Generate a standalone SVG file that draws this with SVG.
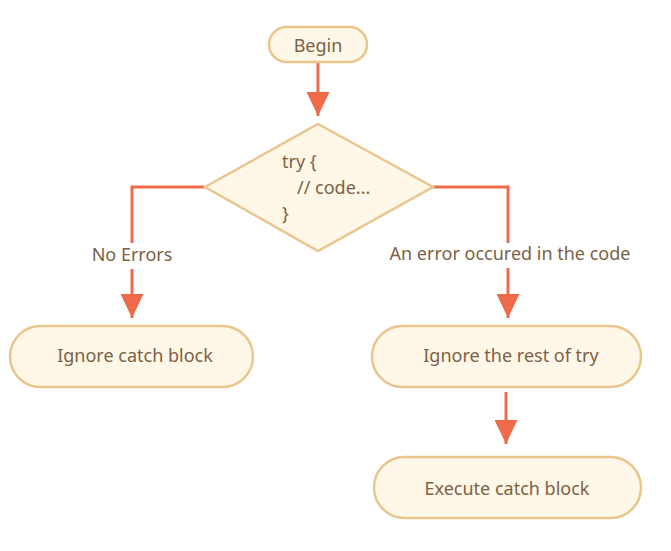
<svg xmlns="http://www.w3.org/2000/svg" width="671" height="551" viewBox="0 0 671 551">
<style>
.node{fill:#fff7e7;stroke:#e9c68e;stroke-width:2.5}
.t{font-family:"Noto Sans","Liberation Sans",Arial,sans-serif;font-size:18px;fill:#7b6246}
.c{text-anchor:middle;dominant-baseline:central}
.ln{fill:none;stroke:#ee6a48;stroke-width:3}
.lbl{font-family:"Noto Sans","Liberation Sans",Arial,sans-serif;font-size:18px;fill:#7b6246;text-anchor:middle;dominant-baseline:central}
</style>
<defs>
<marker id="ah" viewBox="0 0 24 23" refX="24" refY="11.5" markerWidth="24" markerHeight="23" markerUnits="userSpaceOnUse" orient="auto">
<path d="M0,0 L24,11.5 L0,23 Z" fill="#ee6a48"/>
</marker>
</defs>
<rect width="671" height="551" fill="#ffffff"/>
<g id="connectors">
<line class="ln" x1="318" y1="62" x2="318" y2="116" marker-end="url(#ah)"/>
<polyline class="ln" points="205,187 132,187 132,243"/>
<line class="ln" x1="132" y1="269" x2="132" y2="318" marker-end="url(#ah)"/>
<text class="lbl" x="132" y="254">No Errors</text>
<polyline class="ln" points="433,187 508,187 508,243"/>
<line class="ln" x1="508" y1="268" x2="508" y2="318" marker-end="url(#ah)"/>
<text class="lbl" x="510" y="253">An error occured in the code</text>
<line class="ln" x1="506" y1="392" x2="506" y2="444" marker-end="url(#ah)"/>
</g>
<g id="begin">
<rect class="node" x="269" y="27" width="98" height="35" rx="17.5"/>
<text class="t c" x="318" y="45">Begin</text>
</g>
<g id="try">
<polygon class="node" points="318,124 433,187 318,251 205,187"/>
<text class="t" x="282" y="168">try {</text>
<text class="t" x="297" y="194">// code...</text>
<text class="t" x="282" y="220">}</text>
</g>
<g id="ignore-catch">
<rect class="node" x="10" y="326" width="243" height="61" rx="30.5"/>
<text class="t c" x="135" y="355">Ignore catch block</text>
</g>
<g id="ignore-rest">
<rect class="node" x="372" y="326" width="269" height="61" rx="30.5"/>
<text class="t c" x="511" y="355">Ignore the rest of try</text>
</g>
<g id="execute-catch">
<rect class="node" x="374" y="457" width="267" height="61" rx="30.5"/>
<text class="t c" x="507" y="488">Execute catch block</text>
</g>
</svg>
